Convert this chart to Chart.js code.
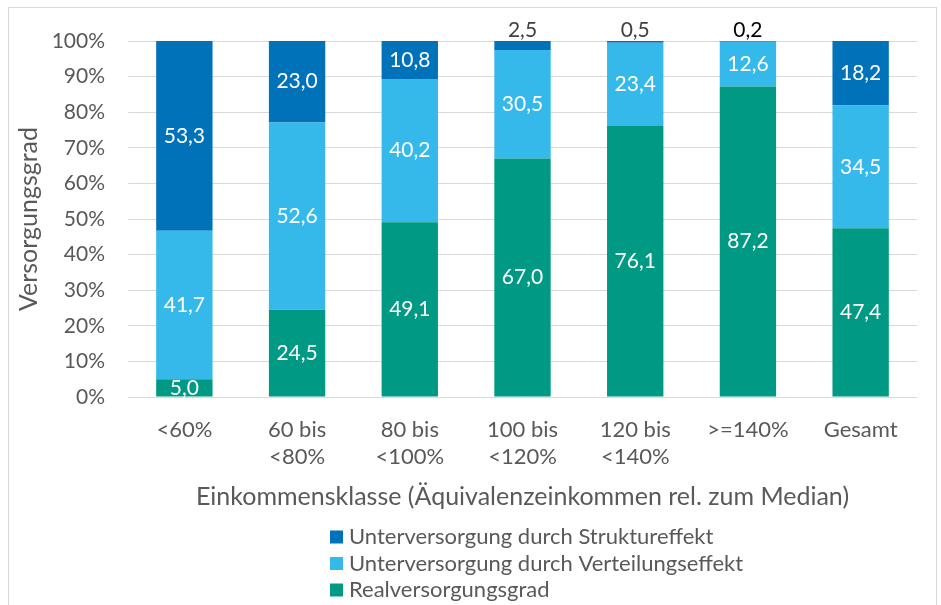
<!DOCTYPE html>
<html lang="de">
<head>
<meta charset="utf-8">
<title>Versorgungsgrad nach Einkommensklasse</title>
<script src="https://cdn.jsdelivr.net/npm/chart.js@4/dist/chart.umd.min.js"></script>
<style>
  html, body { margin: 0; padding: 0; background: #fff; }
  canvas { display: block; }
</style>
</head>
<body>
<canvas id="chart" width="941" height="605"></canvas>
<script>
// Versorgungsgrad — stacked 100% bars

const CATEGORIES = ['<60%', ['60 bis', '<80%'], ['80 bis', '<100%'], ['100 bis', '<120%'], ['120 bis', '<140%'], '>=140%', 'Gesamt'];
const REAL = [5.0, 24.5, 49.1, 67.0, 76.1, 87.2, 47.4];
const VERTEILUNG = [41.7, 52.6, 40.2, 30.5, 23.4, 12.6, 34.5];
const STRUKTUR = [53.3, 23.0, 10.8, 2.5, 0.5, 0.2, 18.2];
const Y_TICKS = [0, 10, 20, 30, 40, 50, 60, 70, 80, 90, 100];

const FONT = "Lato, 'Open Sans', sans-serif";
const GREY = '#595959';
const GRID = '#d9d9d9';
const SMALL = 3; // values below this are labelled above the bar

const fmt = v => v.toFixed(1).replace('.', ',');

// data labels: white inside the segment, dark above the bar for tiny tops
const valueLabels = {
  id: 'valueLabels',
  afterDatasetsDraw(chart) {
    const ctx = chart.ctx;
    ctx.save();
    ctx.font = `21px ${FONT}`;
    ctx.textAlign = 'center';
    ctx.textBaseline = 'middle';
    chart.data.datasets.forEach((ds, di) => {
      const meta = chart.getDatasetMeta(di);
      meta.data.forEach((bar, i) => {
        const v = ds.data[i];
        if (v < SMALL) {
          ctx.fillStyle = v < 0.3 ? '#000000' : '#404040';
          ctx.fillText(fmt(v), bar.x, Math.min(bar.y, bar.base) - 11);
        } else {
          ctx.fillStyle = '#ffffff';
          ctx.fillText(fmt(v), bar.x, (bar.y + bar.base) / 2);
        }
      });
    });
    ctx.restore();
  },
};

// frame + vertical legend under the axis title
const frameAndLegend = {
  id: 'frameAndLegend',
  beforeDraw(chart) {
    const ctx = chart.ctx;
    ctx.save();
    ctx.fillStyle = '#fff';
    ctx.fillRect(0, 0, chart.width, chart.height);
    ctx.strokeStyle = GRID;
    ctx.lineWidth = 1;
    ctx.strokeRect(8.5, 7.5, chart.width - 13, chart.height + 10);
    ctx.restore();
  },
  afterDraw(chart) {
    const ctx = chart.ctx;
    const items = chart.data.datasets.slice().reverse();
    const left = 330, top = 537, step = 26.5, box = 13;
    ctx.save();
    ctx.font = `22px ${FONT}`;
    ctx.textAlign = 'left';
    ctx.textBaseline = 'middle';
    items.forEach((ds, i) => {
      const y = top + i * step;
      ctx.fillStyle = ds.backgroundColor;
      ctx.fillRect(left, y - box / 2, box, box);
      ctx.fillStyle = GREY;
      ctx.fillText(ds.label, left + 19, y);
    });
    ctx.restore();
  },
};

new Chart(document.getElementById('chart'), {
  type: 'bar',
  data: {
    labels: CATEGORIES,
    datasets: [
      { label: 'Realversorgungsgrad', data: REAL, backgroundColor: '#009a84' },
      { label: 'Unterversorgung durch Verteilungseffekt', data: VERTEILUNG, backgroundColor: '#35b9eb' },
      { label: 'Unterversorgung durch Struktureffekt', data: STRUKTUR, backgroundColor: '#0072ba' },
    ],
  },
  options: {
    responsive: false,
    animation: false,
    categoryPercentage: 1,
    barPercentage: 0.5,
    layout: { padding: { left: 8, top: 41, right: 24, bottom: 96 } },
    plugins: {
      legend: { display: false },
      tooltip: { enabled: false },
    },
    scales: {
      x: {
        stacked: true,
        grid: { display: false, drawTicks: false },
        border: { display: false },
        ticks: { color: GREY, padding: 20, maxRotation: 0, autoSkip: false, font: { family: FONT, size: 22, lineHeight: 1.2 } },
        title: {
          display: true,
          text: 'Einkommensklasse (Äquivalenzeinkommen rel. zum Median)',
          color: GREY,
          padding: 0,
          font: { family: FONT, size: 25, lineHeight: 1 },
        },
        afterFit(scale) { scale.height = 112; },
      },
      y: {
        stacked: true,
        min: 0,
        max: 100,
        afterBuildTicks(scale) { scale.ticks = Y_TICKS.map(v => ({ value: v })); },
        grid: { color: GRID, lineWidth: 1, drawTicks: false },
        border: { display: false },
        ticks: { color: GREY, padding: 23, font: { family: FONT, size: 21 }, callback: v => v + '%' },
        title: {
          display: true,
          text: 'Versorgungsgrad',
          color: GREY,
          padding: { top: 8, bottom: 0 },
          font: { family: FONT, size: 25, lineHeight: 1 },
        },
        afterFit(scale) { scale.width = 120; },
      },
    },
  },
  plugins: [frameAndLegend, valueLabels],
});
</script>
</body>
</html>
